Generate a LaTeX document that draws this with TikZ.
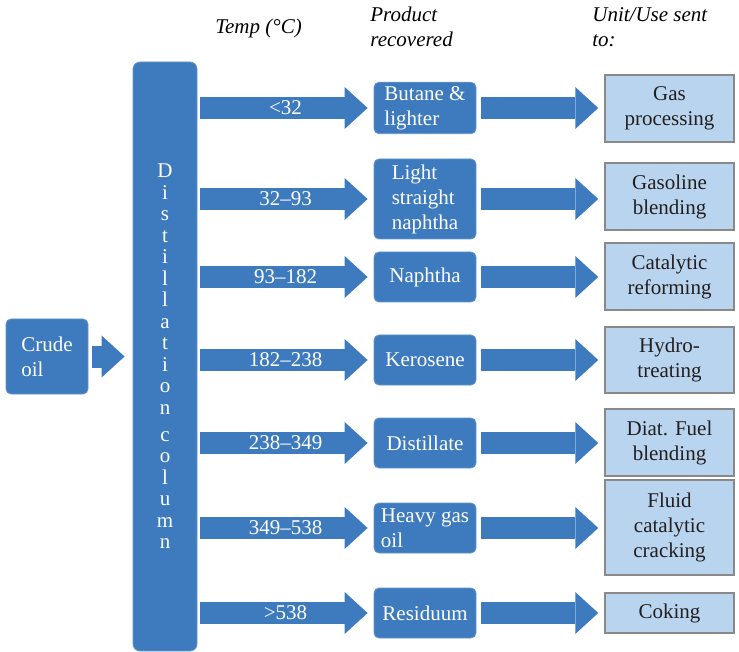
\documentclass[tikz,border=0pt]{standalone}
\usepackage{fontspec}
\setmainfont{Liberation Serif}
\usepackage{tikz}
\usetikzlibrary{arrows.meta}
\definecolor{procblue}{RGB}{62,123,190}
\definecolor{unitblue}{RGB}{185,212,238}
\definecolor{unitline}{RGB}{137,137,137}
\definecolor{unittext}{RGB}{35,31,32}
\newcommand{\diagfont}{\fontsize{10.5}{12.5}\selectfont}
\tikzset{
  every node/.style={font=\diagfont},
  procbox/.style={fill=procblue,draw=procblue!80!white,line width=0.4pt,rounded corners=2.5pt,
    text=white,minimum width=51pt,minimum height=25pt,align=left,inner sep=2pt},
  unitbox/.style={fill=unitblue,draw=unitline,line width=0.75pt,text=unittext,
    minimum width=64.5pt,align=center,inner sep=2pt},
  fatarrow/.style={draw=procblue,line width=11pt,
    -{Triangle[length=11.5pt,width=21pt,line width=0pt]}},
  headtext/.style={font=\diagfont\itshape,align=left,anchor=west,inner sep=0pt},
  templabel/.style={text=white,midway}
}
\begin{document}
\begin{tikzpicture}[x=0.5pt,y=-0.5pt]
		\useasboundingbox (0,0) rectangle (739,652);
		\node[headtext] (temphead) at (215,28) {Temp (°C)};
		\node[headtext] (prodhead) at (370,27) {Product\\recovered};
		\node[headtext] (unithead) at (592,27) {Unit/Use sent\\to:};
%
		\node[procbox,minimum width=41pt,minimum height=37.5pt] (crude) at (47,356.5) {Crude\\oil};
		\node[procbox,minimum width=32pt,minimum height=294.5pt,rounded corners=3.5pt,align=center,
		  font=\fontsize{10.5}{10.75}\selectfont] (col) at (165,356.5)
		  {D\\i\\s\\t\\i\\l\\l\\a\\t\\i\\o\\n\\[2.75pt]c\\o\\l\\u\\m\\n};
%
		\node[procbox] (p1) at (425,108) {Butane \&\\lighter};
		\node[procbox,minimum height=40pt] (p2) at (425,199) {Light\\straight\\naphtha};
		\node[procbox] (p3) at (425,277) {Naphtha};
		\node[procbox] (p4) at (425,360) {Kerosene};
		\node[procbox] (p5) at (425,443) {Distillate};
		\node[procbox] (p6) at (425,528) {Heavy gas\\oil};
		\node[procbox] (p7) at (425,613) {Residuum};
%
		\node[unitbox,minimum height=33.5pt] (u1) at (669.5,108.5) {Gas\\processing};
		\node[unitbox,minimum height=33.5pt] (u2) at (669.5,196.5) {Gasoline\\blending};
		\node[unitbox,minimum height=33.5pt] (u3) at (669.5,276.5) {Catalytic\\reforming};
		\node[unitbox,minimum height=33pt] (u4) at (669.5,360) {Hydro-\\treating};
		\node[unitbox,minimum height=33.5pt] (u5) at (669.5,442.5) {Diat. Fuel\\blending};
		\node[unitbox,minimum height=47.5pt] (u6) at (669.5,527.5) {Fluid\\catalytic\\cracking};
		\node[unitbox,minimum height=20pt] (u7) at (669.5,613) {Coking};
%
		\draw[fatarrow,shorten <=2pt,shorten >=4pt] (crude.east) -- (col.west |- crude.east);
		\foreach \n/\t in {1/<32,2/32–93,3/93–182,4/182–238,5/238–349,6/349–538,7/>538}{
		  \draw[fatarrow,shorten <=1.5pt,shorten >=3pt] (col.east |- p\n.west) -- (p\n.west)
		    node[templabel] {\t};
		  \draw[fatarrow,shorten <=2.5pt,shorten >=3pt] (p\n.east) -- (u\n.west |- p\n.east);
		}
\end{tikzpicture}
\end{document}
